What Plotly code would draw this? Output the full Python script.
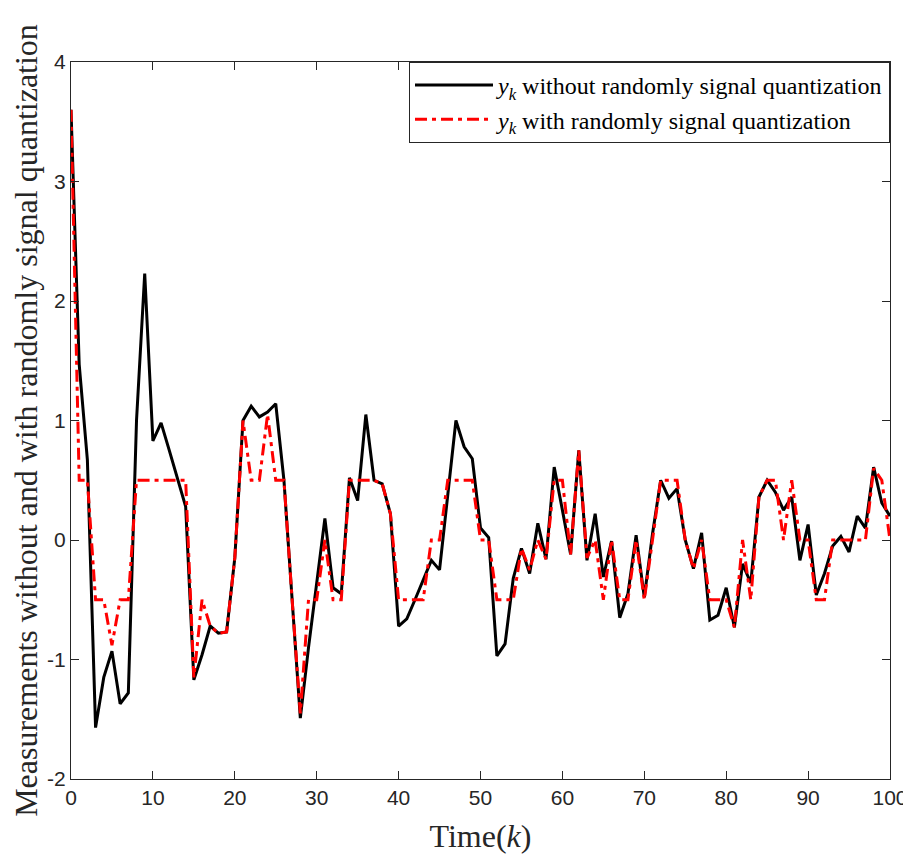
import plotly.graph_objects as go

k = list(range(101))

y_without = [
    3.6, 1.47, 0.67, -1.57, -1.15, -0.93, -1.37, -1.28, 1.0, 2.23,
    0.83, 0.98, 0.75, 0.52, 0.28, -1.17, -0.96, -0.72, -0.78, -0.77,
    -0.15, 1.0, 1.12, 1.03, 1.07, 1.14, 0.5, -0.5, -1.49, -0.9,
    -0.35, 0.18, -0.4, -0.45, 0.52, 0.33, 1.05, 0.5, 0.47, 0.22,
    -0.72, -0.66, -0.5, -0.33, -0.17, -0.25, 0.38, 1.0, 0.78, 0.68,
    0.1, 0.02, -0.97, -0.87, -0.32, -0.07, -0.28, 0.14, -0.16, 0.61,
    0.25, -0.12, 0.75, -0.17, 0.22, -0.31, -0.01, -0.65, -0.45, 0.04,
    -0.48, 0.05, 0.5, 0.35, 0.43, 0.0, -0.24, 0.06, -0.67, -0.63,
    -0.4, -0.73, -0.2, -0.36, 0.36, 0.5, 0.4, 0.25, 0.36, -0.17,
    0.13, -0.46, -0.28, -0.05, 0.03, -0.1, 0.2, 0.1, 0.61, 0.31,
    0.2,
]

y_with = [
    3.6, 0.5, 0.5, -0.5, -0.5, -0.88, -0.5, -0.5, 0.5, 0.5,
    0.5, 0.5, 0.5, 0.5, 0.5, -1.15, -0.5, -0.72, -0.78, -0.77,
    -0.15, 1.0, 0.5, 0.5, 1.05, 0.5, 0.5, -0.5, -1.45, -0.5,
    -0.5, 0.0, -0.5, -0.5, 0.5, 0.5, 0.5, 0.5, 0.47, 0.22,
    -0.5, -0.5, -0.5, -0.5, 0.0, 0.0, 0.5, 0.5, 0.5, 0.5,
    0.0, 0.0, -0.5, -0.5, -0.5, -0.07, -0.25, 0.0, -0.16, 0.5,
    0.5, -0.12, 0.75, -0.15, 0.0, -0.5, 0.0, -0.5, -0.5, 0.0,
    -0.5, 0.0, 0.5, 0.5, 0.5, 0.0, -0.24, 0.0, -0.5, -0.5,
    -0.5, -0.73, 0.0, -0.5, 0.36, 0.5, 0.5, 0.0, 0.5, 0.0,
    0.0, -0.5, -0.5, 0.0, 0.0, 0.0, 0.0, 0.0, 0.6, 0.5,
    0.0,
]

x_ticks = list(range(0, 101, 10))
y_ticks = [-2, -1, 0, 1, 2, 3, 4]

name_without = "<i>y</i><sub><i>k</i></sub> without randomly signal quantization"
name_with = "<i>y</i><sub><i>k</i></sub> with randomly signal quantization"

axis_color = "#262626"
serif = "Liberation Serif, Times New Roman, serif"
sans = "Liberation Sans, Arial, sans-serif"

fig = go.Figure()
fig.add_trace(go.Scatter(x=k, y=y_without, mode="lines", name=name_without,
                         line=dict(color="black", width=3)))
fig.add_trace(go.Scatter(x=k, y=y_with, mode="lines", name=name_with,
                         line=dict(color="red", width=3, dash="12px,5px,4px,5px")))

fig.update_layout(
    width=903, height=858,
    margin=dict(l=63, r=21, t=54, b=87, autoexpand=False),
    plot_bgcolor="white", paper_bgcolor="white",
    showlegend=True,
    legend=dict(x=1, y=1, xanchor="right", yanchor="top",
                bordercolor=axis_color, borderwidth=1, bgcolor="white",
                font=dict(family=serif, size=24, color="black"),
                tracegroupgap=0, itemwidth=78),
)
fig.update_xaxes(
    range=[0, 100], tickvals=x_ticks, ticktext=[str(v) for v in x_ticks],
    ticks="inside", ticklen=8, tickcolor=axis_color, showline=True, linecolor=axis_color,
    linewidth=1, mirror="ticks", showgrid=False, zeroline=False, automargin=False,
    tickfont=dict(family=sans, size=21, color=axis_color),
    title=dict(text="Time(<i>k</i>)", font=dict(family=serif, size=32, color=axis_color), standoff=16),
)
fig.update_yaxes(
    range=[-2, 4], tickvals=y_ticks, ticktext=[str(v) for v in y_ticks],
    ticks="inside", ticklen=8, tickcolor=axis_color, showline=True, linecolor=axis_color,
    linewidth=1, mirror="ticks", showgrid=False, zeroline=False, automargin=False,
    tickfont=dict(family=sans, size=21, color=axis_color),
    title=dict(text="Measurements without and with randomly signal quantization",
               font=dict(family=serif, size=32, color=axis_color), standoff=0),
)

fig.write_html("out.html")
